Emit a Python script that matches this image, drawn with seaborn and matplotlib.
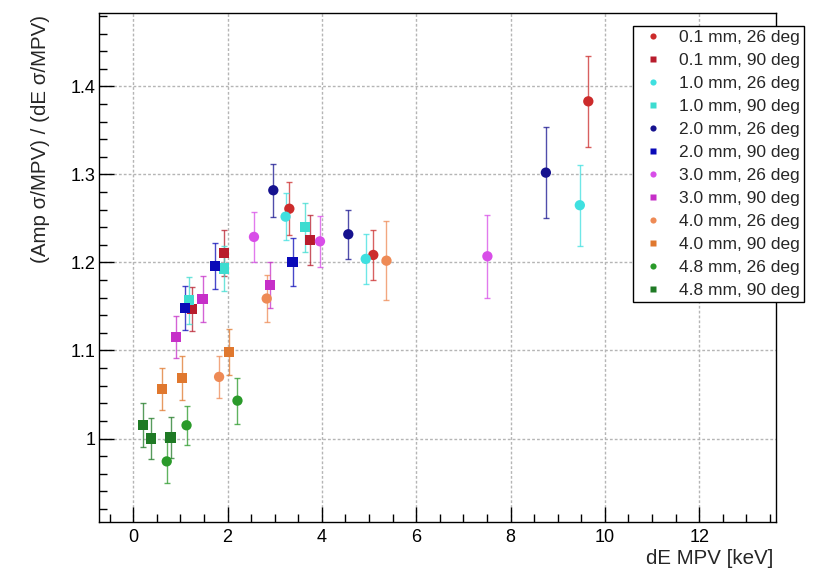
import matplotlib
matplotlib.use("Agg")
import matplotlib.pyplot as plt
import numpy as np
import pandas as pd
import seaborn as sns
from matplotlib.ticker import MultipleLocator, FuncFormatter

# ---------------- data ----------------
labels = ["0.1 mm, 26 deg", "0.1 mm, 90 deg",
          "1.0 mm, 26 deg", "1.0 mm, 90 deg",
          "2.0 mm, 26 deg", "2.0 mm, 90 deg",
          "3.0 mm, 26 deg", "3.0 mm, 90 deg",
          "4.0 mm, 26 deg", "4.0 mm, 90 deg",
          "4.8 mm, 26 deg", "4.8 mm, 90 deg"]

x_01_26 = [3.31, 5.09, 9.65]
y_01_26 = [1.261, 1.2085, 1.383]
e_01_26 = [0.030, 0.028, 0.052]

x_01_90 = [1.245, 1.92, 3.75]
y_01_90 = [1.147, 1.211, 1.2256]
e_01_90 = [0.025, 0.026, 0.028]

x_10_26 = [3.23, 4.93, 9.47]
y_10_26 = [1.252, 1.204, 1.265]
e_10_26 = [0.027, 0.028, 0.046]

x_10_90 = [1.18, 1.93, 3.64]
y_10_90 = [1.157, 1.193, 1.240]
e_10_90 = [0.027, 0.026, 0.028]

x_20_26 = [2.97, 4.56, 8.75]
y_20_26 = [1.282, 1.232, 1.302]
e_20_26 = [0.030, 0.028, 0.052]

x_20_90 = [1.096, 1.74, 3.38]
y_20_90 = [1.148, 1.196, 1.2006]
e_20_90 = [0.025, 0.026, 0.027]

x_30_26 = [2.56, 3.96, 7.51]
y_30_26 = [1.229, 1.224, 1.207]
e_30_26 = [0.028, 0.029, 0.047]

x_30_90 = [0.905, 1.47, 2.90]
y_30_90 = [1.115, 1.1585, 1.174]
e_30_90 = [0.024, 0.026, 0.026]

x_40_26 = [1.82, 2.83, 5.37]
y_40_26 = [1.070, 1.159, 1.202]
e_40_26 = [0.024, 0.027, 0.045]

x_40_90 = [0.615, 1.03, 2.03]
y_40_90 = [1.056, 1.069, 1.098]
e_40_90 = [0.024, 0.025, 0.026]

x_48_26 = [0.71, 1.13, 2.21]
y_48_26 = [0.974, 1.015, 1.043]
e_48_26 = [0.024, 0.022, 0.026]

x_48_90 = [0.20, 0.375, 0.79]
y_48_90 = [1.015, 1.000, 1.001]
e_48_90 = [0.025, 0.023, 0.023]

series_x = [x_01_26, x_01_90, x_10_26, x_10_90, x_20_26, x_20_90,
            x_30_26, x_30_90, x_40_26, x_40_90, x_48_26, x_48_90]
series_y = [y_01_26, y_01_90, y_10_26, y_10_90, y_20_26, y_20_90,
            y_30_26, y_30_90, y_40_26, y_40_90, y_48_26, y_48_90]
series_e = [e_01_26, e_01_90, e_10_26, e_10_90, e_20_26, e_20_90,
            e_30_26, e_30_90, e_40_26, e_40_90, e_48_26, e_48_90]

colors = ["#cc2b2b", "#b81c2c",
          "#3fe0e0", "#3ddcd0",
          "#16128f", "#0a0ab8",
          "#d84ee8", "#c62fc8",
          "#ee8a55", "#e0782e",
          "#2a9a2a", "#1f7a25"]
markers = ["o", "s"] * 6

records = []
for lab, xs, ys, es in zip(labels, series_x, series_y, series_e):
    for xv, yv, ev in zip(xs, ys, es):
        records.append({"series": lab, "dE": xv, "ratio": yv, "err": ev})
df = pd.DataFrame(records)

# ---------------- figure ----------------
sns.set_style("ticks")
plt.rcParams["font.family"] = ["Liberation Sans", "DejaVu Sans"]

fig = plt.figure(figsize=(8.2, 5.7), dpi=100)
ax = fig.add_axes([99.3 / 820, 1 - 521.7 / 570, (776 - 99.3) / 820, (521.7 - 13.3) / 570])

palette = dict(zip(labels, colors))
for lab in labels:
    sub = df[df["series"] == lab]
    ax.errorbar(sub["dE"], sub["ratio"], yerr=sub["err"], fmt="none",
                ecolor=palette[lab], elinewidth=1.0, capsize=2, capthick=1.0,
                alpha=0.75, zorder=2)

sns.scatterplot(data=df, x="dE", y="ratio", hue="series", style="series",
                hue_order=labels, style_order=labels, palette=palette,
                markers=dict(zip(labels, markers)), s=55, edgecolor="none",
                ax=ax, zorder=3, legend=True)

ax.set_xlim(-0.72, 13.63)
ax.set_ylim(0.9055, 1.483)
ax.xaxis.set_major_locator(MultipleLocator(2))
ax.xaxis.set_minor_locator(MultipleLocator(0.5))
ax.yaxis.set_major_locator(MultipleLocator(0.1))
ax.yaxis.set_minor_locator(MultipleLocator(0.02))
ax.yaxis.set_major_formatter(FuncFormatter(lambda v, p: f"{v:g}"))

ax.grid(True, which="major", color="#b5b5b5", linestyle=(0, (2, 1.5)), linewidth=1.0)
ax.tick_params(which="both", direction="in", top=False, right=False,
               labelsize=13, width=1.0, colors="black")
ax.tick_params(which="major", length=11, pad=5)
ax.tick_params(which="minor", length=6)
ax.tick_params(axis="y", which="major", pad=3)
for sp in ax.spines.values():
    sp.set_color("black")
    sp.set_linewidth(1.0)

ax.set_xlabel("dE MPV [keV]", fontsize=14.8, loc="right")
ax.xaxis.set_label_coords((773 - 99.3) / 676.7, (521.7 - 549) / 508.4)
ax.set_ylabel("(Amp \u03c3/MPV) / (dE \u03c3/MPV)", fontsize=14.8)
ylab = ax.yaxis.label
ylab.set_rotation_mode("anchor")
ylab.set_horizontalalignment("right")
ylab.set_verticalalignment("center")
ax.yaxis.set_label_coords((41 - 99.3) / 676.7, (521.7 - 15) / 508.4)

handles, labs = ax.get_legend_handles_labels()
leg = ax.legend(handles, labs, loc="upper left",
                bbox_to_anchor=(633 / 820, 1 - 26 / 570),
                bbox_transform=fig.transFigure, frameon=True, fancybox=False,
                edgecolor="black", framealpha=1.0, fontsize=12.5,
                markerscale=0.6, handletextpad=0.6, handlelength=1.8,
                labelspacing=0.45, borderpad=0.25, borderaxespad=0)
leg.get_frame().set_linewidth(1.0)

fig.savefig("out.png", dpi=100)
